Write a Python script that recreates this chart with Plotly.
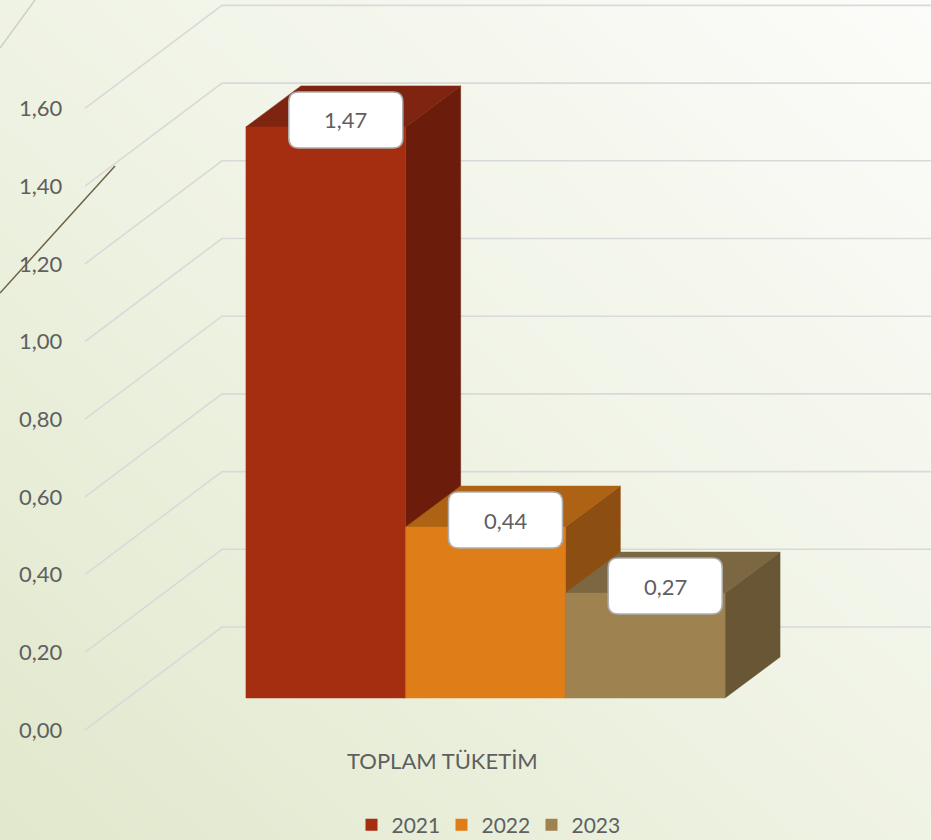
import base64
import plotly.graph_objects as go

# ---------------- data ----------------
categories = ["TOPLAM TÜKETİM"]
series_names = ["2021", "2022", "2023"]
series_values = [1.47, 0.44, 0.27]
tick_values = [0.0, 0.2, 0.4, 0.6, 0.8, 1.0, 1.2, 1.4, 1.6]

front_colors = ["#A62E10", "#DF7D19", "#9E8351"]
top_colors = ["#7F2410", "#AD6214", "#7B6741"]
side_colors = ["#6B1C0B", "#8C4F11", "#695634"]

# ---------------- layout / projection constants ----------------
W, H = 931, 840
PX_PER_UNIT = 388.5          # vertical pixels per value unit
ZERO_PX = 730                # pixel row of value 0 on the front plane
WALL_DX = 137                # floor depth (front plane -> back wall), px
WALL_DY = 103 / PX_PER_UNIT  # same depth, in value units
AXIS_X0 = 85                 # left edge of the front plane
BAR_DEPTH_START = 32 / 103   # bar front face depth fraction
BAR_DX = 55                  # bar depth, px
BAR_DY = 41 / PX_PER_UNIT    # bar depth, value units
GROUP_CENTER = 485.5
BAR_W = 159.7
FONT = "Lato"
TXT = "#5F5F5F"

y_min = -(H - ZERO_PX) / PX_PER_UNIT
y_max = ZERO_PX / PX_PER_UNIT

fig = go.Figure()

# gridlines: diagonal on the side then horizontal on back wall
gx, gy = [], []
for v in tick_values:
    gx += [AXIS_X0, AXIS_X0 + WALL_DX, W + 5, None]
    gy += [v, v + WALL_DY, v + WALL_DY, None]
fig.add_trace(go.Scatter(x=gx, y=gy, mode="lines",
                         line=dict(color="#D9D9D9", width=1.6),
                         hoverinfo="skip", showlegend=False))

base = BAR_DEPTH_START * WALL_DY
n = len(series_values)
centers = [GROUP_CENTER + (i - (n - 1) / 2) * BAR_W for i in range(n)]


def poly(xs, ys, color):
    fig.add_trace(go.Scatter(
        x=xs + [xs[0]], y=ys + [ys[0]], mode="lines", fill="toself",
        fillcolor=color, line=dict(width=0.5, color=color),
        hoverinfo="skip", showlegend=False))


# painter's order: left to right, side -> top -> front
for i, v in enumerate(series_values):
    xl = centers[i] - BAR_W / 2
    xr = centers[i] + BAR_W / 2
    top = base + v
    poly([xr, xr, xr + BAR_DX, xr + BAR_DX],
         [base, top, top + BAR_DY, base + BAR_DY], side_colors[i])
    poly([xl, xr, xr + BAR_DX, xl + BAR_DX],
         [top, top, top + BAR_DY, top + BAR_DY], top_colors[i])
    poly([xl, xr, xr, xl], [base, base, top, top], front_colors[i])

# legend entries (bar icons)
for i, name in enumerate(series_names):
    fig.add_trace(go.Bar(x=[None], y=[None], name=name,
                         marker=dict(color=front_colors[i], line=dict(width=0))))

# data labels: rounded white boxes
shapes = []
BOX_HW, BOX_HH, R = 57, 28, 10
for i, v in enumerate(series_values):
    cx = centers[i] + 20
    cy = base + v + 7 / PX_PER_UNIT
    hh = BOX_HH / PX_PER_UNIT
    ry = R / PX_PER_UNIT
    x0, x1 = cx - BOX_HW, cx + BOX_HW
    y0, y1 = cy - hh, cy + hh
    path = (f"M {x0+R},{y0} L {x1-R},{y0} Q {x1},{y0} {x1},{y0+ry} "
            f"L {x1},{y1-ry} Q {x1},{y1} {x1-R},{y1} "
            f"L {x0+R},{y1} Q {x0},{y1} {x0},{y1-ry} "
            f"L {x0},{y0+ry} Q {x0},{y0} {x0+R},{y0} Z")
    shapes.append(dict(type="path", xref="x", yref="y", path=path,
                       fillcolor="#FFFFFF",
                       line=dict(color="#AFAFAF", width=1.5)))
    fig.add_annotation(x=cx, y=cy, xref="x", yref="y",
                       text=f"{v:.2f}".replace(".", ","), showarrow=False,
                       font=dict(size=22, color=TXT, family=FONT))

# category label on the front plane
fig.add_annotation(
    x=GROUP_CENTER - BAR_DEPTH_START * WALL_DX, y=-30 / PX_PER_UNIT,
    xref="x", yref="y", text=categories[0], showarrow=False,
    font=dict(size=22, color=TXT, family=FONT))

# template decoration lines
shapes += [
    dict(type="line", xref="paper", yref="paper",
         x0=0, y0=1 - 293 / H, x1=115 / W, y1=1 - 166 / H,
         line=dict(color="#6E6246", width=1.5)),
    dict(type="line", xref="paper", yref="paper",
         x0=0, y0=1 - 48 / H, x1=35 / W, y1=1.0,
         line=dict(color="#CDD1BF", width=1.5)),
]

# background gradient
svg = (
    '<svg xmlns="http://www.w3.org/2000/svg" width="200" height="200" '
    'preserveAspectRatio="none" viewBox="0 0 200 200">'
    '<defs><linearGradient id="g" x1="0" y1="1" x2="1" y2="0">'
    '<stop offset="0" stop-color="#E1E8CC"/>'
    '<stop offset="0.45" stop-color="#EEF2E2"/>'
    '<stop offset="1" stop-color="#FCFCFA"/>'
    '</linearGradient></defs>'
    '<rect width="200" height="200" fill="url(#g)"/></svg>'
)
src = "data:image/svg+xml;base64," + base64.b64encode(svg.encode()).decode()

fig.update_layout(
    width=W, height=H,
    margin=dict(l=0, r=0, t=0, b=0, autoexpand=False),
    paper_bgcolor="#F1F4E8",
    plot_bgcolor="rgba(0,0,0,0)",
    separators=",.",
    barmode="overlay",
    font=dict(family=FONT, color=TXT, size=22),
    images=[dict(source=src, xref="paper", yref="paper", x=0, y=1,
                 sizex=1, sizey=1, sizing="stretch", layer="below")],
    xaxis=dict(range=[0, W], visible=False, fixedrange=True),
    yaxis=dict(range=[y_min, y_max], showgrid=False, zeroline=False,
               showline=False, ticks="", tickvals=tick_values,
               tickformat=".2f", ticklabelposition="inside",
               ticklabelstandoff=16,
               tickfont=dict(size=22, color=TXT, family=FONT),
               fixedrange=True),
    legend=dict(orientation="h", x=(465.5 + 21) / W, xanchor="center",
                y=(H - 825) / H, yanchor="middle",
                entrywidth=45, entrywidthmode="pixels",
                font=dict(size=21, color=TXT, family=FONT),
                bgcolor="rgba(0,0,0,0)", traceorder="normal"),
    shapes=shapes,
)

fig.write_html("out.html",
               config={"displayModeBar": False},
               post_script="document.body.style.margin='0';"
                           "document.body.style.overflow='hidden';")
